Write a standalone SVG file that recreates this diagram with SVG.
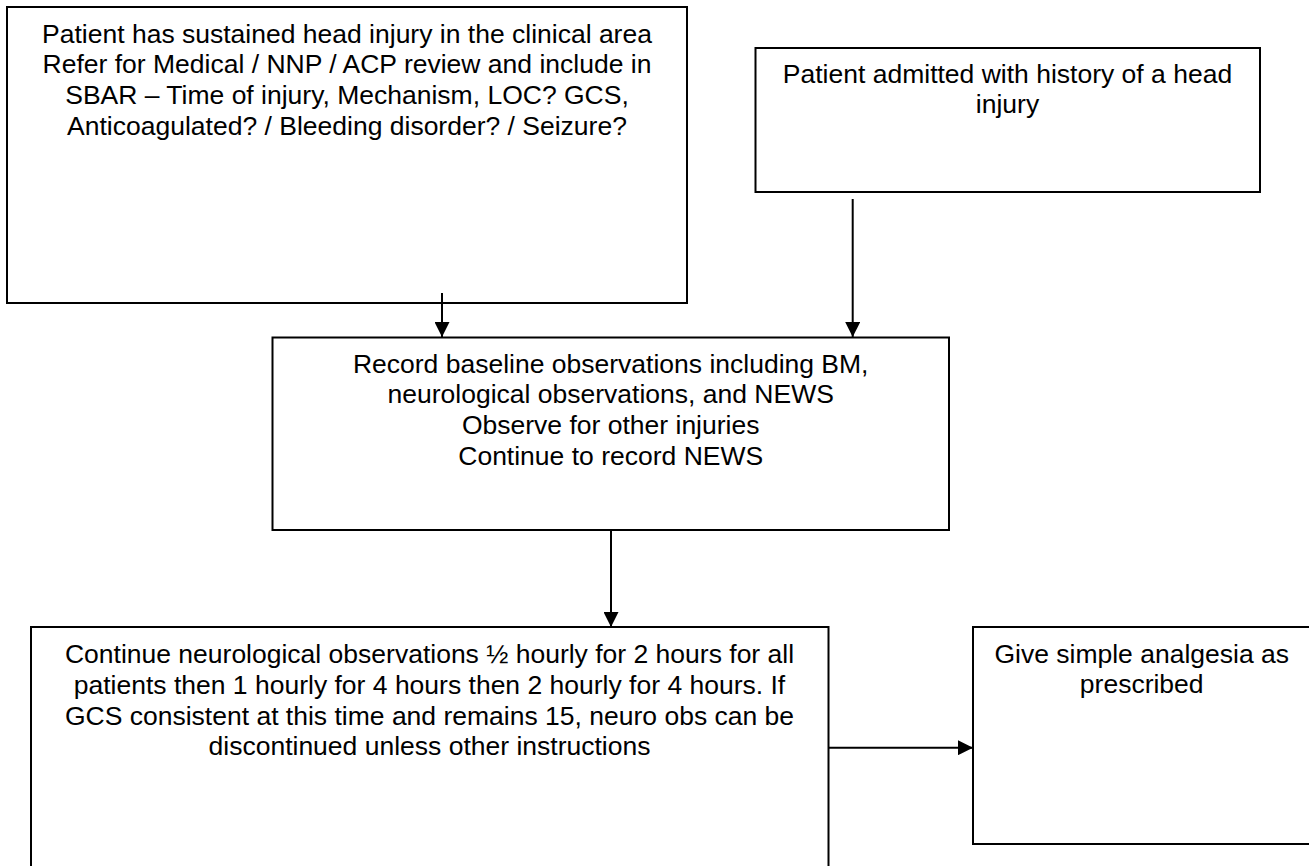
<svg xmlns="http://www.w3.org/2000/svg" width="1309" height="866" viewBox="0 0 1309 866">
  <style>
    .box { fill: #ffffff; stroke: #000000; stroke-width: 2; }
    .txt { font-family: "Liberation Sans", Arial, sans-serif; font-size: 26.5px; fill: #000000; text-anchor: middle; }
    .conn { stroke: #000000; stroke-width: 2; fill: none; marker-end: url(#arrow); }
  </style>
  <defs>
    <marker id="arrow" markerUnits="userSpaceOnUse" markerWidth="15" markerHeight="15" refX="15" refY="7.5" orient="auto">
      <path d="M0,0 L15,7.5 L0,15 Z" fill="#000000"/>
    </marker>
  </defs>
  <rect width="1309" height="866" fill="#ffffff"/>

  <g id="node-injury-in-clinical-area">
    <rect class="box" x="7" y="7" width="680" height="296"/>
    <text class="txt" x="347" y="42.7">Patient has sustained head injury in the clinical area</text>
    <text class="txt" x="347" y="73.3">Refer for Medical / NNP / ACP review and include in</text>
    <text class="txt" x="347" y="104">SBAR – Time of injury, Mechanism, LOC? GCS,</text>
    <text class="txt" x="347" y="134.7">Anticoagulated? / Bleeding disorder? / Seizure?</text>
  </g>

  <g id="node-admitted-with-history">
    <rect class="box" x="755.5" y="48" width="504.5" height="144"/>
    <text class="txt" x="1007.5" y="83">Patient admitted with history of a head</text>
    <text class="txt" x="1007.5" y="113">injury</text>
  </g>

  <g id="node-baseline-observations">
    <rect class="box" x="272.5" y="337.5" width="676.5" height="192.5"/>
    <text class="txt" x="610.7" y="372.7">Record baseline observations including BM,</text>
    <text class="txt" x="610.7" y="403.3">neurological observations, and NEWS</text>
    <text class="txt" x="610.7" y="434">Observe for other injuries</text>
    <text class="txt" x="610.7" y="464.7">Continue to record NEWS</text>
  </g>

  <g id="node-continue-neuro-obs">
    <rect class="box" x="31" y="627" width="797.5" height="260"/>
    <text class="txt" x="429.5" y="663.3">Continue neurological observations ½ hourly for 2 hours for all</text>
    <text class="txt" x="429.5" y="694">patients then 1 hourly for 4 hours then 2 hourly for 4 hours. If</text>
    <text class="txt" x="429.5" y="724.7">GCS consistent at this time and remains 15, neuro obs can be</text>
    <text class="txt" x="429.5" y="755.3">discontinued unless other instructions</text>
  </g>

  <g id="node-simple-analgesia">
    <rect class="box" x="973" y="627" width="338" height="217"/>
    <text class="txt" x="1141.7" y="662.7">Give simple analgesia as</text>
    <text class="txt" x="1141.7" y="692.7">prescribed</text>
  </g>

  <g id="connectors">
    <line class="conn" x1="442" y1="293" x2="442" y2="337"/>
    <line class="conn" x1="852.7" y1="199" x2="852.7" y2="337"/>
    <line class="conn" x1="611" y1="530" x2="611" y2="627"/>
    <line class="conn" x1="828.5" y1="747.7" x2="973" y2="747.7"/>
  </g>
</svg>
